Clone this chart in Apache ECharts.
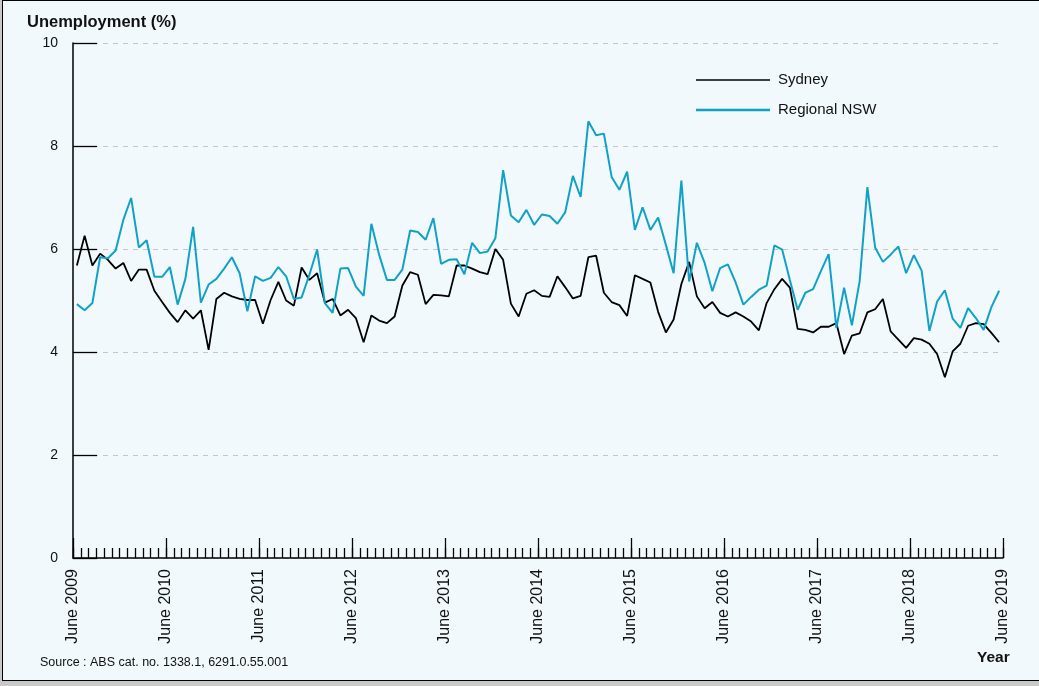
<!DOCTYPE html>
<html>
<head>
<meta charset="utf-8">
<title>Unemployment - Sydney vs Regional NSW</title>
<script src="https://cdn.jsdelivr.net/npm/echarts@6/dist/echarts.min.js"></script>
<style>
  html, body { margin: 0; padding: 0; background: #c9c9c9; }
  #frame {
    position: absolute; left: 2px; top: 0; width: 1040px; height: 679px;
    border: 1px solid #000; border-right: none;
    background: #f2f9fc;
  }
  #chart { position: absolute; left: 0; top: 0; width: 1039px; height: 686px; }
</style>
</head>
<body>
<div id="frame"></div>
<div id="chart"></div>
<script>
// monthly unemployment rate (%), June 2009 onwards
const sydney = [
  5.68, 6.26, 5.68, 5.91, 5.79, 5.62, 5.73, 5.38, 5.60, 5.60, 5.19, 4.97,
  4.76, 4.58, 4.81, 4.65, 4.81, 4.04, 5.03, 5.15, 5.08, 5.03, 5.01, 5.01,
  4.55, 5.01, 5.36, 5.00, 4.90, 5.64, 5.40, 5.53, 4.96, 5.03, 4.71, 4.82,
  4.66, 4.19, 4.71, 4.61, 4.56, 4.69, 5.29, 5.55, 5.50, 4.93, 5.11, 5.10,
  5.08, 5.68, 5.68, 5.62, 5.55, 5.51, 6.00, 5.79, 4.94, 4.69, 5.13, 5.20,
  5.09, 5.07, 5.47, 5.26, 5.04, 5.09, 5.84, 5.87, 5.15, 4.97, 4.91, 4.70,
  5.49, 5.42, 5.35, 4.78, 4.38, 4.63, 5.32, 5.75, 5.08, 4.85, 4.97, 4.76,
  4.69, 4.77, 4.69, 4.59, 4.42, 4.95, 5.22, 5.42, 5.25, 4.45, 4.43, 4.38,
  4.49, 4.49, 4.56, 3.96, 4.32, 4.36, 4.77, 4.83, 5.03, 4.40, 4.24, 4.08,
  4.27, 4.24, 4.16, 3.96, 3.51, 4.01, 4.16, 4.51, 4.56, 4.54, 4.37, 4.19
]
const regionalNsw = [
  4.93, 4.81, 4.95, 5.84, 5.82, 5.97, 6.57, 6.99, 6.03, 6.17, 5.46, 5.46,
  5.65, 4.92, 5.42, 6.43, 4.96, 5.31, 5.42, 5.62, 5.84, 5.53, 4.79, 5.47,
  5.38, 5.44, 5.65, 5.47, 5.03, 5.06, 5.50, 5.99, 4.95, 4.76, 5.62, 5.63,
  5.27, 5.09, 6.49, 5.89, 5.40, 5.40, 5.60, 6.36, 6.33, 6.18, 6.60, 5.71,
  5.79, 5.80, 5.51, 6.12, 5.92, 5.95, 6.21, 7.53, 6.65, 6.52, 6.76, 6.47,
  6.67, 6.64, 6.49, 6.71, 7.42, 7.01, 8.48, 8.21, 8.24, 7.40, 7.15, 7.50,
  6.37, 6.81, 6.37, 6.61, 6.08, 5.53, 7.33, 5.37, 6.12, 5.73, 5.18, 5.63,
  5.70, 5.35, 4.92, 5.07, 5.21, 5.29, 6.07, 5.99, 5.40, 4.82, 5.15, 5.22,
  5.57, 5.90, 4.47, 5.25, 4.52, 5.37, 7.20, 6.03, 5.75, 5.89, 6.05, 5.53,
  5.88, 5.58, 4.41, 4.98, 5.20, 4.65, 4.47, 4.85, 4.66, 4.43, 4.87, 5.19
]
const yearLabels = [
  'June 2009', 'June 2010', 'June 2011', 'June 2012', 'June 2013', 'June 2014',
  'June 2015', 'June 2016', 'June 2017', 'June 2018', 'June 2019'
]
const monthNames = ['Jun', 'Jul', 'Aug', 'Sep', 'Oct', 'Nov', 'Dec', 'Jan', 'Feb', 'Mar', 'Apr', 'May']
// one category per month (one band each)
const months = []
for (let i = 0; i < sydney.length; i++) {
  const year = 2009 + Math.floor((i + 5) / 12)
  months.push(monthNames[i % 12] + ' ' + year)
}
// month boundaries, used only for the small ticks
const monthEdges = months.concat(['Jun 2019'])

const FONT = '"Liberation Sans", Arial, Helvetica, sans-serif'
const BLUE = '#12a1c6'

const chart = echarts.init(document.getElementById('chart'))

// one legend per series so each line sample keeps its own thickness
function legendFor(name, top, thickness) {
  return {
    orient: 'vertical',
    left: 696,
    top: top,
    padding: 0,
    icon: 'rect',
    itemWidth: 74,
    itemHeight: thickness,
    textStyle: { fontSize: 15, lineHeight: 18, color: '#111', fontFamily: FONT, padding: [0, 0, 0, 3] },
    data: [name]
  }
}

const option = {
  backgroundColor: 'transparent',
  animation: false,
  textStyle: { fontFamily: FONT },
  grid: { left: 73, right: 36, top: 43, bottom: 128, containLabel: false },
  graphic: [
    {
      type: 'text', left: 27, top: 14,
      style: { text: 'Unemployment (%)', font: 'bold 16.5px ' + FONT, fill: '#111' }
    },
    {
      type: 'text', left: 977, top: 650,
      style: { text: 'Year', font: 'bold 15.5px ' + FONT, fill: '#111' }
    },
    {
      type: 'text', left: 40, top: 656,
      style: { text: 'Source : ABS cat. no. 1338.1, 6291.0.55.001', font: '12.5px ' + FONT, fill: '#111' }
    }
  ],
  legend: [
    legendFor('Sydney', 71, 1.4),
    legendFor('Regional NSW', 101, 2.4)
  ],
  xAxis: [
    {
      // monthly bands that carry the data
      type: 'category',
      data: months,
      boundaryGap: true,
      position: 'bottom',
      axisLine: { show: true, lineStyle: { color: '#000', width: 1.5 } },
      axisTick: { show: false },
      axisLabel: { show: false },
      splitLine: { show: false }
    },
    {
      // small ticks at every month boundary
      type: 'category',
      data: monthEdges,
      boundaryGap: false,
      position: 'bottom',
      axisLine: { show: false },
      axisTick: { show: true, inside: true, length: 10, interval: 0, lineStyle: { color: '#000', width: 1.3 } },
      axisLabel: { show: true, interval: 0, formatter: function () { return '' } },
      splitLine: { show: false }
    },
    {
      // tall ticks + labels each June
      type: 'category',
      data: yearLabels,
      boundaryGap: false,
      position: 'bottom',
      axisLine: { show: false },
      axisTick: { show: true, inside: true, length: 20, interval: 0, lineStyle: { color: '#000', width: 1.3 } },
      axisLabel: {
        interval: 0, rotate: 90, margin: 11,
        fontSize: 16, color: '#111', fontFamily: FONT
      },
      splitLine: { show: false }
    }
  ],
  yAxis: {
    type: 'value',
    min: 0,
    max: 10,
    interval: 2,
    axisLine: { show: true, lineStyle: { color: '#000', width: 1.5 } },
    axisTick: { show: true, inside: true, length: 24, lineStyle: { color: '#000', width: 1.3 } },
    axisLabel: { margin: 15, fontSize: 14, color: '#111', fontFamily: FONT },
    splitLine: { show: true, lineStyle: { color: '#c6c6c6', type: [5, 5], width: 1 } }
  },
  series: [
    {
      name: 'Sydney',
      type: 'line',
      xAxisIndex: 0,
      data: sydney,
      symbol: 'none',
      lineStyle: { color: '#000', width: 1.8 },
      itemStyle: { color: '#000' }
    },
    {
      name: 'Regional NSW',
      type: 'line',
      xAxisIndex: 0,
      data: regionalNsw,
      symbol: 'none',
      lineStyle: { color: BLUE, width: 2 },
      itemStyle: { color: BLUE }
    }
  ]
}
chart.setOption(option)
</script>
</body>
</html>
